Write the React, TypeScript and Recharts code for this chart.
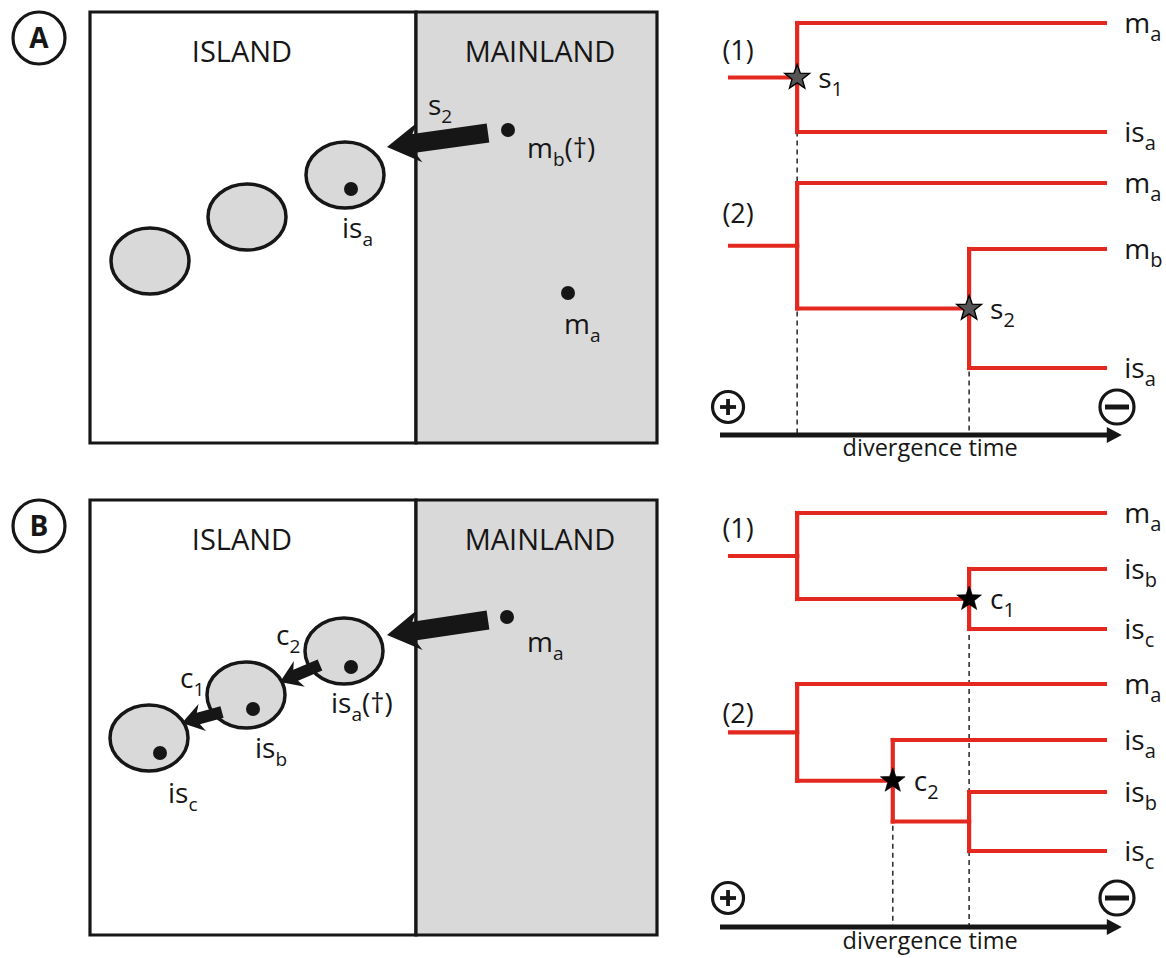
import React from 'react';
import { ScatterChart, Scatter, XAxis, YAxis, ReferenceArea, ReferenceLine } from 'recharts';

const FONT = '"Open Sans", "Noto Sans", sans-serif';
const INK = '#161616';
const RED = '#e3281f';
const LAND = '#d9d9d9';

const PANEL_H = 479;
const MAP_W = 680;
const TREE_W = 466;

// ---------- map panels (coordinates local to each 680 x 479 panel) ----------
const boxA = { left: 90, split: 416, right: 657, top: 12, bottom: 443 };
const boxB = { left: 90, split: 416, right: 657, top: 21, bottom: 456 };

const regionLabelsA = [
  { x: 242, y: 62, text: 'ISLAND' },
  { x: 540, y: 62, text: 'MAINLAND' },
];
const regionLabelsB = [
  { x: 242, y: 71, text: 'ISLAND' },
  { x: 540, y: 71, text: 'MAINLAND' },
];

const badgeA = [{ x: 39, y: 38, text: 'A' }];
const badgeB = [{ x: 39, y: 47, text: 'B' }];

const islandsA = [{ x: 150, y: 261 }, { x: 247, y: 217 }, { x: 345, y: 175 }];
const islandsB = [{ x: 149, y: 259 }, { x: 246, y: 216 }, { x: 344, y: 172 }];

const speciesA = [{ x: 351, y: 189 }, { x: 508, y: 130 }, { x: 568, y: 293 }];
const speciesB = [{ x: 160, y: 274 }, { x: 253, y: 230 }, { x: 351, y: 188 }, { x: 507, y: 138 }];

const labelsA = [
  { x: 342, y: 238, text: 'is', sub: 'a' },
  { x: 527, y: 158, text: 'm', sub: 'b', after: '(†)' },
  { x: 564, y: 334, text: 'm', sub: 'a' },
  { x: 428, y: 115, text: 's', sub: '2' },
];
const labelsB = [
  { x: 527, y: 173, text: 'm', sub: 'a' },
  { x: 331, y: 234, text: 'is', sub: 'a', after: '(†)' },
  { x: 255, y: 279, text: 'is', sub: 'b' },
  { x: 168, y: 324, text: 'is', sub: 'c' },
  { x: 276, y: 166, text: 'c', sub: '2' },
  { x: 180, y: 209, text: 'c', sub: '1' },
];

const arrowsA = [{ x1: 488, y1: 133, x2: 387, y2: 147, big: true }];
const arrowsB = [
  { x1: 488, y1: 141, x2: 387, y2: 156, big: true },
  { x1: 320, y1: 186, x2: 280, y2: 203, big: false },
  { x1: 222, y1: 233, x2: 182, y2: 244, big: false },
];

// ---------- trees (x = divergence time 0..100, y local to panel) ----------
const STEM_T = 2.5;
const TIP_T = 95.8;
const LABEL_T = 100.6;
const SIGN_T = [2, 98.8];
const CAPTION_T = 52.3;
const TAG_T = 0.6;

type Tip = { id: string; y: number; name: string; sub: string };
type Clade = { id: string; t: number; kids: string[] };

const tipsA: Tip[] = [
  { id: 'a1_ma', y: 23, name: 'm', sub: 'a' },
  { id: 'a1_isa', y: 132, name: 'is', sub: 'a' },
  { id: 'a2_ma', y: 183, name: 'm', sub: 'a' },
  { id: 'a2_mb', y: 249, name: 'm', sub: 'b' },
  { id: 'a2_isa', y: 368, name: 'is', sub: 'a' },
];
const cladesA1: Clade[] = [{ id: 'a1_r', t: 19.2, kids: ['a1_ma', 'a1_isa'] }];
const cladesA2: Clade[] = [
  { id: 'a2_r', t: 19.2, kids: ['a2_ma', 'a2_n'] },
  { id: 'a2_n', t: 62, kids: ['a2_mb', 'a2_isa'] },
];
const starsA = [
  { at: 'a1_r', text: 's', sub: '1', grey: true },
  { at: 'a2_n', text: 's', sub: '2', grey: true },
];
const tagsA = [{ x: TAG_T, y: 60, text: '(1)' }, { x: TAG_T, y: 223, text: '(2)' }];

const tipsB: Tip[] = [
  { id: 'b1_ma', y: 34, name: 'm', sub: 'a' },
  { id: 'b1_isb', y: 90, name: 'is', sub: 'b' },
  { id: 'b1_isc', y: 150, name: 'is', sub: 'c' },
  { id: 'b2_ma', y: 205, name: 'm', sub: 'a' },
  { id: 'b2_isa', y: 261, name: 'is', sub: 'a' },
  { id: 'b2_isb', y: 313, name: 'is', sub: 'b' },
  { id: 'b2_isc', y: 372, name: 'is', sub: 'c' },
];
const cladesB1: Clade[] = [
  { id: 'b1_r', t: 19.2, kids: ['b1_ma', 'b1_n'] },
  { id: 'b1_n', t: 62, kids: ['b1_isb', 'b1_isc'] },
];
const cladesB2: Clade[] = [
  { id: 'b2_r', t: 19.2, kids: ['b2_ma', 'b2_n1'] },
  { id: 'b2_n1', t: 43, kids: ['b2_isa', 'b2_n2'] },
  { id: 'b2_n2', t: 62, kids: ['b2_isb', 'b2_isc'] },
];
const starsB = [
  { at: 'b1_n', text: 'c', sub: '1', grey: false },
  { at: 'b2_n1', text: 'c', sub: '2', grey: false },
];
const tagsB = [{ x: TAG_T, y: 59, text: '(1)' }, { x: TAG_T, y: 244, text: '(2)' }];

// ---------- helpers ----------
type Pt = { x: number; y: number };

function layoutTree(tips: Tip[], clades: Clade[]) {
  const pos: Record<string, { t: number; y: number }> = {};
  tips.forEach((tp) => { pos[tp.id] = { t: TIP_T, y: tp.y }; });
  const place = (id: string): { t: number; y: number } => {
    if (pos[id]) return pos[id];
    const c = clades.find((k) => k.id === id)!;
    const ys = c.kids.map((k) => place(k).y);
    pos[id] = { t: c.t, y: (Math.min(...ys) + Math.max(...ys)) / 2 };
    return pos[id];
  };
  clades.forEach((c) => place(c.id));
  const segs: Pt[][] = [];
  clades.forEach((c) => {
    const ys = c.kids.map((k) => pos[k].y);
    segs.push([{ x: c.t, y: Math.min(...ys) }, { x: c.t, y: Math.max(...ys) }]);
    c.kids.forEach((k) => segs.push([{ x: c.t, y: pos[k].y }, { x: pos[k].t, y: pos[k].y }]));
  });
  const root = pos[clades[0].id];
  segs.push([{ x: STEM_T, y: root.y }, { x: root.t, y: root.y }]);
  return { pos, segs };
}

const textShape = (size: number, subSize: number, weight = 400) => (p: any) => {
  const d = p.payload;
  return (
    <text x={p.cx} y={p.cy} fontFamily={FONT} fontSize={size} fontWeight={weight} fill={INK}
      textAnchor={d.anchor || 'start'}>
      {d.text}
      {d.sub ? <tspan dy={size * 0.3} fontSize={subSize}>{d.sub}</tspan> : null}
      {d.after ? <tspan dy={-size * 0.3} fontSize={size}>{d.after}</tspan> : null}
    </text>
  );
};

const arrowShape = (shaft: number, headLen: number, headHalf: number, sweep: number) => (p: any) => {
  const { x1, y1, x2, y2 } = p;
  const dx = x2 - x1, dy = y2 - y1;
  const len = Math.hypot(dx, dy) || 1;
  const ux = dx / len, uy = dy / len, nx = -uy, ny = ux;
  const bx = x2 - ux * headLen, by = y2 - uy * headLen;
  const h = shaft / 2;
  const pts = [
    [x1 + nx * h, y1 + ny * h],
    [bx + nx * h, by + ny * h],
    [bx - ux * sweep + nx * headHalf, by - uy * sweep + ny * headHalf],
    [x2, y2],
    [bx - ux * sweep - nx * headHalf, by - uy * sweep - ny * headHalf],
    [bx - nx * h, by - ny * h],
    [x1 - nx * h, y1 - ny * h],
  ];
  return <polygon points={pts.map((q) => q.join(',')).join(' ')} fill={INK} />;
};

const bigArrow = arrowShape(19, 27, 20, 6);
const smallArrow = arrowShape(12, 17, 14, 4);
const axisArrow = arrowShape(5, 15, 8, 0);

function starPoints(cx: number, cy: number, R: number, r: number) {
  const out: string[] = [];
  for (let i = 0; i < 10; i++) {
    const a = -Math.PI / 2 + (i * Math.PI) / 5;
    const rad = i % 2 === 0 ? R : r;
    out.push(`${cx + rad * Math.cos(a)},${cy + rad * Math.sin(a)}`);
  }
  return out.join(' ');
}

const starShape = (p: any) => {
  const d = p.payload;
  return (
    <g>
      <polygon points={starPoints(p.cx, p.cy, 13, 5.4)} fill={d.grey ? '#555' : '#000'}
        stroke="#000" strokeWidth={d.grey ? 1.4 : 0.6} />
      <text x={p.cx + 21} y={p.cy + 10} fontFamily={FONT} fontSize={28} fill={INK}>
        {d.text}
        <tspan dy={8} fontSize={20}>{d.sub}</tspan>
      </text>
    </g>
  );
};

const signShape = (p: any) => {
  const plus = p.payload.sign === '+';
  return (
    <g stroke={INK} fill="#fff">
      <circle cx={p.cx} cy={p.cy} r={plus ? 15.5 : 17} strokeWidth={3.2} />
      {plus ? (
        <g strokeWidth={3.8}>
          <line x1={p.cx - 8} y1={p.cy} x2={p.cx + 8} y2={p.cy} />
          <line x1={p.cx} y1={p.cy - 8} x2={p.cx} y2={p.cy + 8} />
        </g>
      ) : (
        <line x1={p.cx - 12} y1={p.cy} x2={p.cx + 12} y2={p.cy} strokeWidth={5} />
      )}
    </g>
  );
};

const badgeShape = (p: any) => (
  <g>
    <circle cx={p.cx} cy={p.cy} r={26} fill="#fff" stroke={INK} strokeWidth={3.2} />
    <text x={p.cx} y={p.cy + 10} textAnchor="middle" fontFamily={FONT} fontSize={28}
      fontWeight={700} fill={INK}>{p.payload.text}</text>
  </g>
);

const islandShape = (p: any) => (
  <ellipse cx={p.cx} cy={p.cy} rx={39} ry={33} fill={LAND} stroke={INK} strokeWidth={3.5} />
);
const dotShape = (p: any) => <circle cx={p.cx} cy={p.cy} r={7} fill={INK} />;

// ---------- panels ----------
type MapProps = {
  top: number;
  box: typeof boxA;
  regionLabels: { x: number; y: number; text: string }[];
  badge: { x: number; y: number; text: string }[];
  islands: Pt[];
  species: Pt[];
  labels: { x: number; y: number; text: string; sub: string; after?: string }[];
  arrows: { x1: number; y1: number; x2: number; y2: number; big: boolean }[];
};

function MapPanel({ top, box, regionLabels, badge, islands, species, labels, arrows }: MapProps) {
  const regionText = regionLabels.map((r) => ({ ...r, anchor: 'middle' }));
  return (
    <div style={{ position: 'absolute', left: 0, top, width: MAP_W, height: PANEL_H }}>
      <ScatterChart width={MAP_W} height={PANEL_H} margin={{ top: 0, right: 0, bottom: 0, left: 0 }}>
        <XAxis type="number" dataKey="x" domain={[0, MAP_W]} hide />
        <YAxis type="number" dataKey="y" domain={[0, PANEL_H]} reversed hide />
        <ReferenceArea x1={box.left} x2={box.split} y1={box.top} y2={box.bottom}
          fill="#fff" fillOpacity={1} stroke={INK} strokeWidth={3.2} zIndex={10} />
        <ReferenceArea x1={box.split} x2={box.right} y1={box.top} y2={box.bottom}
          fill={LAND} fillOpacity={1} stroke={INK} strokeWidth={3.2} zIndex={10} />
        <Scatter data={islands} shape={islandShape} isAnimationActive={false} zIndex={40} />
        {arrows.map((a, i) => (
          <ReferenceLine key={`ar${i}`} segment={[{ x: a.x1, y: a.y1 }, { x: a.x2, y: a.y2 }]}
            ifOverflow="visible" shape={a.big ? bigArrow : smallArrow} zIndex={50} />
        ))}
        <Scatter data={species} shape={dotShape} isAnimationActive={false} zIndex={60} />
        <Scatter data={badge} shape={badgeShape} isAnimationActive={false} zIndex={60} />
        <Scatter data={regionText} shape={textShape(29, 20)} isAnimationActive={false} zIndex={70} />
        <Scatter data={labels} shape={textShape(28, 19)} isAnimationActive={false} zIndex={70} />
      </ScatterChart>
    </div>
  );
}

type TreeProps = {
  top: number;
  tips: Tip[];
  trees: Clade[][];
  stars: { at: string; text: string; sub: string; grey: boolean }[];
  tags: { x: number; y: number; text: string }[];
  axisY: number;
  signY: number;
  captionY: number;
};

function TreePanel({ top, tips, trees, stars, tags, axisY, signY, captionY }: TreeProps) {
  const laid = trees.map((c) => layoutTree(tips, c));
  const pos: Record<string, { t: number; y: number }> = Object.assign({}, ...laid.map((l) => l.pos));
  const segs = laid.flatMap((l) => l.segs);
  const starPts = stars.map((s) => ({ ...s, x: pos[s.at].t, y: pos[s.at].y }));
  const tipLabels = tips.map((tp) => ({ x: LABEL_T, y: tp.y + 10, text: tp.name, sub: tp.sub }));
  const signs = [
    { x: SIGN_T[0], y: signY, sign: '+' },
    { x: SIGN_T[1], y: signY, sign: '-' },
  ];
  const caption = [{ x: CAPTION_T, y: captionY, text: 'divergence time', anchor: 'middle' }];
  return (
    <div style={{ position: 'absolute', left: 700, top, width: TREE_W, height: PANEL_H }}>
      <ScatterChart width={TREE_W} height={PANEL_H} margin={{ top: 0, right: 0, bottom: 0, left: 20 }}>
        <XAxis type="number" dataKey="x" domain={[0, 111]} hide />
        <YAxis type="number" dataKey="y" domain={[0, PANEL_H]} reversed hide />
        {starPts.map((s, i) => (
          <ReferenceLine key={`d${i}`} segment={[{ x: s.x, y: s.y }, { x: s.x, y: axisY }]}
            stroke="#333" strokeWidth={1.6} strokeDasharray="5 4" zIndex={20} />
        ))}
        {segs.map((s, i) => (
          <ReferenceLine key={`e${i}`} segment={s} stroke={RED} strokeWidth={4.2}
            strokeLinecap="square" zIndex={30} />
        ))}
        <ReferenceLine segment={[{ x: 0, y: axisY }, { x: 100, y: axisY }]} shape={axisArrow} zIndex={30} />
        <Scatter data={starPts} shape={starShape} isAnimationActive={false} zIndex={60} />
        <Scatter data={signs} shape={signShape} isAnimationActive={false} zIndex={60} />
        <Scatter data={tipLabels} shape={textShape(28, 20)} isAnimationActive={false} zIndex={70} />
        <Scatter data={tags} shape={textShape(27, 19)} isAnimationActive={false} zIndex={70} />
        <Scatter data={caption} shape={textShape(23.5, 16)} isAnimationActive={false} zIndex={70} />
      </ScatterChart>
    </div>
  );
}

export default function App() {
  return (
    <div style={{ position: 'absolute', left: 0, top: 0, width: 1166, height: 958, background: '#fff', overflow: 'hidden' }}>
      <MapPanel top={0} box={boxA} regionLabels={regionLabelsA} badge={badgeA} islands={islandsA}
        species={speciesA} labels={labelsA} arrows={arrowsA} />
      <MapPanel top={PANEL_H} box={boxB} regionLabels={regionLabelsB} badge={badgeB} islands={islandsB}
        species={speciesB} labels={labelsB} arrows={arrowsB} />
      <TreePanel top={0} tips={tipsA} trees={[cladesA1, cladesA2]} stars={starsA} tags={tagsA}
        axisY={435} signY={407} captionY={456} />
      <TreePanel top={PANEL_H} tips={tipsB} trees={[cladesB1, cladesB2]} stars={starsB} tags={tagsB}
        axisY={448} signY={419} captionY={470} />
    </div>
  );
}
